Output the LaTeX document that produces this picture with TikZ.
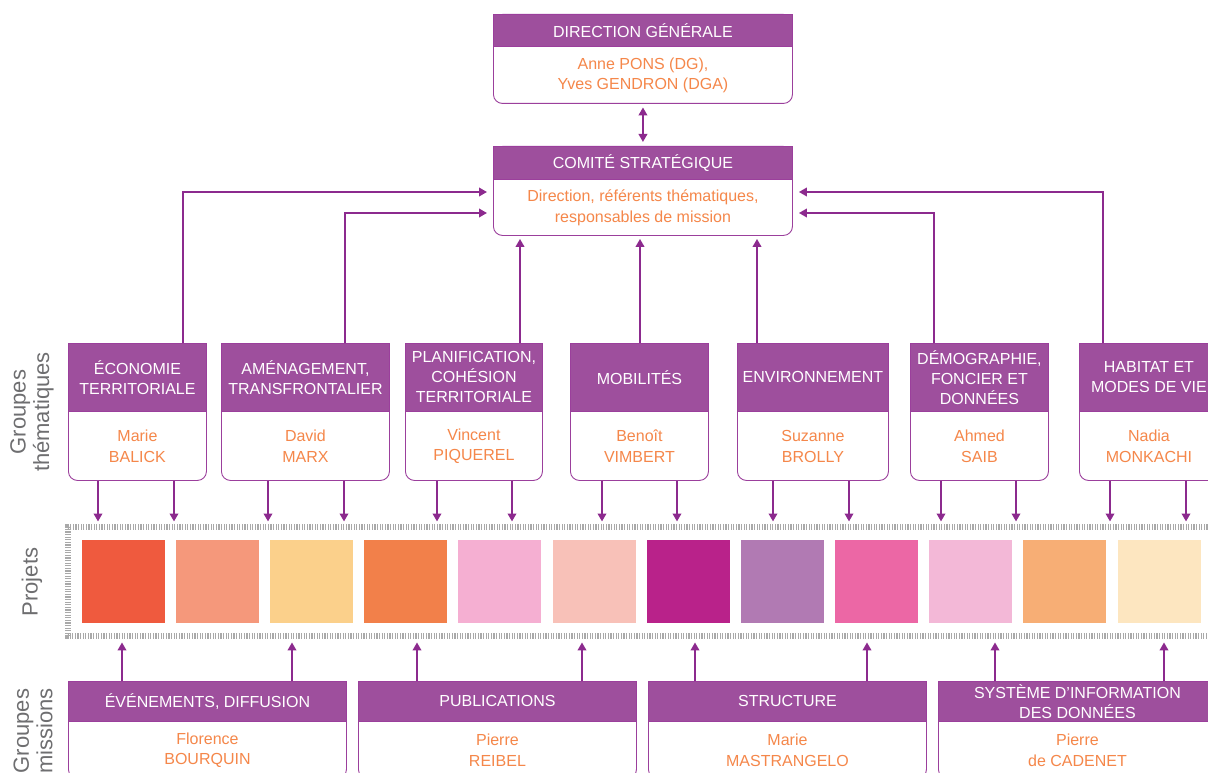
\documentclass[tikz,border=0pt]{standalone}
\usepackage{fontspec}
\setmainfont{Liberation Sans}
\usetikzlibrary{arrows.meta,calc}
\definecolor{hdr}{HTML}{9E4F9D}
\definecolor{brd}{HTML}{9B3F9C}
\definecolor{arrc}{HTML}{8C2A8E}
\definecolor{nmc}{HTML}{F5874A}
\definecolor{lblc}{HTML}{6E6E70}
\definecolor{tickc}{HTML}{A9A9A9}
\begin{document}
\begin{tikzpicture}[x=1pt,y=-1pt,
  boxbody/.style={draw=brd, line width=0.9pt, fill=white, rounded corners=9pt, anchor=north west, inner sep=0pt},
  boxhead/.style={draw=brd, line width=0.9pt, fill=hdr, text=white, anchor=north west, inner sep=0pt, align=center,
     font=\fontsize{16}{20}\selectfont},
  person/.style={text=nmc, align=center, inner sep=0pt, font=\fontsize{16}{20.5}\selectfont},
  sidelbl/.style={text=lblc, align=center, inner sep=0pt, rotate=90, font=\fontsize{22}{23.5}\selectfont},
  arr/.style={draw=arrc, line width=2.6pt, -{Triangle[length=8pt,width=8.5pt]}},
  darr/.style={draw=arrc, line width=2.6pt, {Triangle[length=8pt,width=8.5pt]}-{Triangle[length=8pt,width=8.5pt]}},
  tickline/.style={draw=tickc, line width=6pt, dash pattern=on 1.3pt off 1.3pt},
  proj/.style={anchor=north west, inner sep=0pt, minimum width=83pt, minimum height=83pt, draw=none}
]
\useasboundingbox (0,0) rectangle (1208,773);
\clip (0,0) rectangle (1208,773);

% ---- Direction générale
\node[boxbody, minimum width=299pt, minimum height=89pt] (dg) at (493,14) {};
\node[boxhead, minimum width=299pt, minimum height=32pt] (dgh) at (493,14) {DIRECTION GÉNÉRALE};
\node[person] (dgn) at ($(dgh.south)!0.5!(dg.south)$) {Anne PONS (DG),\\Yves GENDRON (DGA)};

% ---- Comité stratégique
\node[boxbody, minimum width=299pt, minimum height=89pt] (cs) at (493,146) {};
\node[boxhead, minimum width=299pt, minimum height=33pt] (csh) at (493,146) {COMITÉ STRATÉGIQUE};
\node[person] (csn) at ($(csh.south)!0.5!(cs.south)$) {Direction, référents thématiques,\\responsables de mission};

\draw[darr, shorten <=3.5pt, shorten >=4pt] (dg.south) -- (csh.north);

% ---- Thematic groups
\foreach \id/\x/\w/\head/\who in {
  t1/68/138/{ÉCONOMIE\\TERRITORIALE}/{Marie\\BALICK},
  t2/221/168/{AMÉNAGEMENT,\\TRANSFRONTALIER}/{David\\MARX},
  t3/405/137/{PLANIFICATION,\\COHÉSION\\TERRITORIALE}/{Vincent\\PIQUEREL},
  t4/570/138/{MOBILITÉS}/{Benoît\\VIMBERT},
  t5/737/151/{ENVIRONNEMENT}/{Suzanne\\BROLLY},
  t6/910/138/{DÉMOGRAPHIE,\\FONCIER ET\\DONNÉES}/{Ahmed\\SAIB},
  t7/1079/139/{HABITAT ET\\MODES DE VIE}/{Nadia\\MONKACHI}}{
  \node[boxbody, minimum width=\w pt, minimum height=137pt] (\id) at (\x,343) {};
  \node[boxhead, minimum width=\w pt, minimum height=68pt] (\id h) at (\x,343) {\head};
  \node[person] (\id n) at ($(\id h.south)!0.5!(\id.south)$) {\who};
}

% ---- Projects strip
\node[anchor=north west, inner sep=0pt, minimum width=1160pt, minimum height=109pt] (strip) at (68,527) {};
\draw[tickline] (strip.north east) -- (strip.north west) -- (strip.south west) -- (strip.south east);
\foreach \i/\x/\c in {1/82/EF5A3E, 2/176/F5987B, 3/270/FBD08B, 4/364/F2804A, 5/458/F5AFD2, 6/553/F8C1B8,
   7/647/B9228A, 8/741/B17AB3, 9/835/EC67A5, 10/929/F3B8D7, 11/1023/F7AE75, 12/1118/FDE6C0}{
  \definecolor{pc}{HTML}{\c}
  \node[proj, fill=pc] (p\i) at (\x,540) {};
}

% ---- Mission groups
\foreach \id/\x/\head/\who in {
  m1/68/{ÉVÉNEMENTS, DIFFUSION}/{Florence\\BOURQUIN},
  m2/358/{PUBLICATIONS}/{Pierre\\REIBEL},
  m3/648/{STRUCTURE}/{Marie\\MASTRANGELO},
  m4/938/{SYSTÈME D’INFORMATION\\DES DONNÉES}/{Pierre\\de CADENET}}{
  \node[boxbody, minimum width=278pt, minimum height=97pt] (\id) at (\x,681) {};
  \node[boxhead, minimum width=278pt, minimum height=40pt] (\id h) at (\x,681) {\head};
  \node[person] (\id n) at ($(\id h.south)!0.5!(\id.south)$) {\who};
}

% ---- Side labels
\node[sidelbl] (lt) at (32,412) {Groupes\\thématiques};
\node[sidelbl] (lp) at (32,582) {Projets};
\node[sidelbl] (lm) at (33,731) {Groupes\\missions};

% ---- Arrows thematic -> comité
\coordinate (e1) at (183,192);
\coordinate (e2) at (345,213);
\coordinate (e6) at (934,213);
\coordinate (e7) at (1103,192);
\draw[arr, shorten >=6pt] (t1h.north -| e1) |- (cs.west |- e1);
\draw[arr, shorten >=6pt] (t2h.north -| e2) |- (cs.west |- e2);
\draw[arr, shorten >=6pt] (t6h.north -| e6) |- (cs.east |- e6);
\draw[arr, shorten >=6pt] (t7h.north -| e7) |- (cs.east |- e7);
\coordinate (u3) at (520,0);
\coordinate (u4) at (640,0);
\coordinate (u5) at (757,0);
\draw[arr, shorten >=3pt] (t3h.north -| u3) -- (cs.south -| u3);
\draw[arr, shorten >=3pt] (t4h.north -| u4) -- (cs.south -| u4);
\draw[arr, shorten >=3pt] (t5h.north -| u5) -- (cs.south -| u5);

% ---- Arrows thematic -> projects
\foreach \id/\xa/\xb in {t1/98/174, t2/268/344, t3/437/512, t4/602/677, t5/773/849, t6/941/1016, t7/1110/1186}{
  \coordinate (\id a) at (\xa,0);
  \coordinate (\id b) at (\xb,0);
  \draw[arr, shorten >=5.5pt] (\id.south -| \id a) -- (strip.north -| \id a);
  \draw[arr, shorten >=5.5pt] (\id.south -| \id b) -- (strip.north -| \id b);
}

% ---- Arrows missions -> projects
\foreach \id/\xa/\xb in {m1/122/292, m2/417/582, m3/695/867, m4/995/1164}{
  \coordinate (\id a) at (\xa,0);
  \coordinate (\id b) at (\xb,0);
  \draw[arr, shorten >=6pt] (\id h.north -| \id a) -- (strip.south -| \id a);
  \draw[arr, shorten >=6pt] (\id h.north -| \id b) -- (strip.south -| \id b);
}
\end{tikzpicture}
\end{document}
